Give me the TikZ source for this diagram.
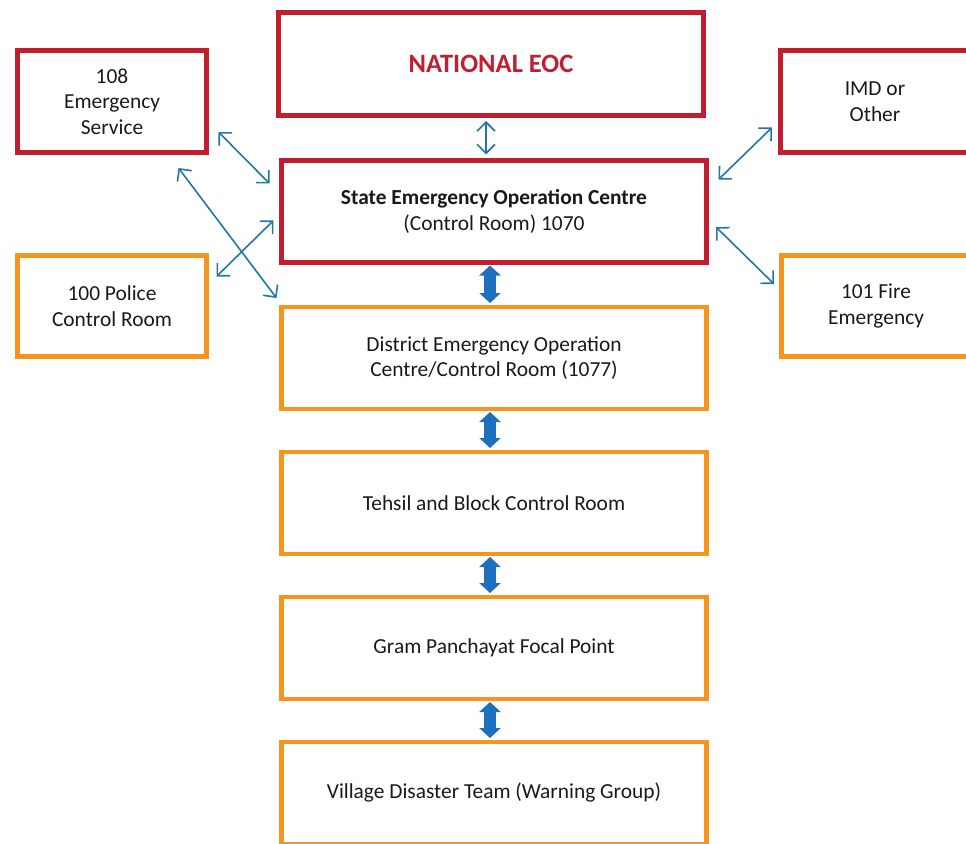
\documentclass[tikz,border=0pt]{standalone}
\usepackage{fontspec}
\setmainfont{Carlito}
\usepackage{xcolor}
\usetikzlibrary{arrows.meta}
\usetikzlibrary{positioning}
\definecolor{eocred}{RGB}{193,30,50}
\definecolor{eocorange}{RGB}{247,148,30}
\definecolor{linkblue}{RGB}{36,118,168}
\definecolor{flowblue}{RGB}{30,112,190}

\begin{document}
\begin{tikzpicture}[x=1pt,y=-1pt,
	box/.style={rectangle, align=center, inner sep=0pt, outer sep=0pt, text=black!90, font=\fontsize{21.4}{25.5}\selectfont},
	redbox/.style={box, draw=eocred, line width=5pt},
	orangebox/.style={box, draw=eocorange, line width=4.5pt},
	mainbox/.style={minimum width=425pt, minimum height=102pt},
	sidebox/.style={minimum width=189pt, minimum height=101pt},
	link/.style={draw=linkblue, line width=1.6pt, {Straight Barb[length=9pt,width=18pt]}-{Straight Barb[length=9pt,width=18pt]}},
	flow/.style={draw=flowblue, line width=12pt, {Triangle[length=10pt,width=21pt]}-{Triangle[length=10pt,width=21pt]}}]
					\useasboundingbox (0,0) rectangle (966,843);
					% main column
					\node[redbox, mainbox, text=eocred, font=\bfseries\fontsize{26.5}{30}\selectfont] (national) at (491,64) {NATIONAL EOC};
					\node[redbox, mainbox] (state) at (494,211.5) {\textbf{State Emergency Operation Centre}\\(Control Room) 1070};
					\node[orangebox, mainbox] (district) at (494,358) {District Emergency Operation\\Centre/Control Room (1077)};
					\node[orangebox, mainbox] (tehsil) at (494,503) {Tehsil and Block Control Room};
					\node[orangebox, mainbox] (gram) at (494,648) {Gram Panchayat Focal Point};
					\node[orangebox, mainbox] (village) at (494,793) {Village Disaster Team (Warning Group)};
					% side boxes
					\node[redbox, sidebox] (ems) at (112,101.5) {108\\Emergency\\Service};
					\node[orangebox, sidebox] (police) at (112,306) {100 Police\\Control Room};
					\node[redbox, sidebox] (imd) at (875,101.5) {IMD or\\Other};
					\node[orangebox, sidebox] (fire) at (876,306) {101 Fire\\Emergency};
					
					% thin links
					\draw[link] ([shift={(-5,6)}]national.south) -- ([shift={(-8,-6)}]state.north);
					\draw[link] ([shift={(12,-20)}]ems.south east) -- ([shift={(-12,23)}]state.north west);
					\draw[link] ([shift={(-28,16)}]ems.south east) -- ([shift={(-5,-9)}]district.north west);
					\draw[link] ([shift={(10,21)}]police.north east) -- ([shift={(-8,-42)}]state.south west);
					\draw[link] ([shift={(-8.5,-24.5)}]imd.south west) -- ([shift={(12,19)}]state.north east);
					\draw[link] ([shift={(9.5,-35.5)}]state.south east) -- ([shift={(-7.5,28.5)}]fire.north west);
					% thick flow arrows
					\draw[flow] ([shift={(-4,3)}]state.south) -- ([shift={(-4,-4)}]district.north);
					\draw[flow] ([shift={(-4,3)}]district.south) -- ([shift={(-4,-4)}]tehsil.north);
					\draw[flow] ([shift={(-4,3)}]tehsil.south) -- ([shift={(-4,-4)}]gram.north);
					\draw[flow] ([shift={(-4,3)}]gram.south) -- ([shift={(-4,-4)}]village.north);
				\end{tikzpicture}
\end{document}
